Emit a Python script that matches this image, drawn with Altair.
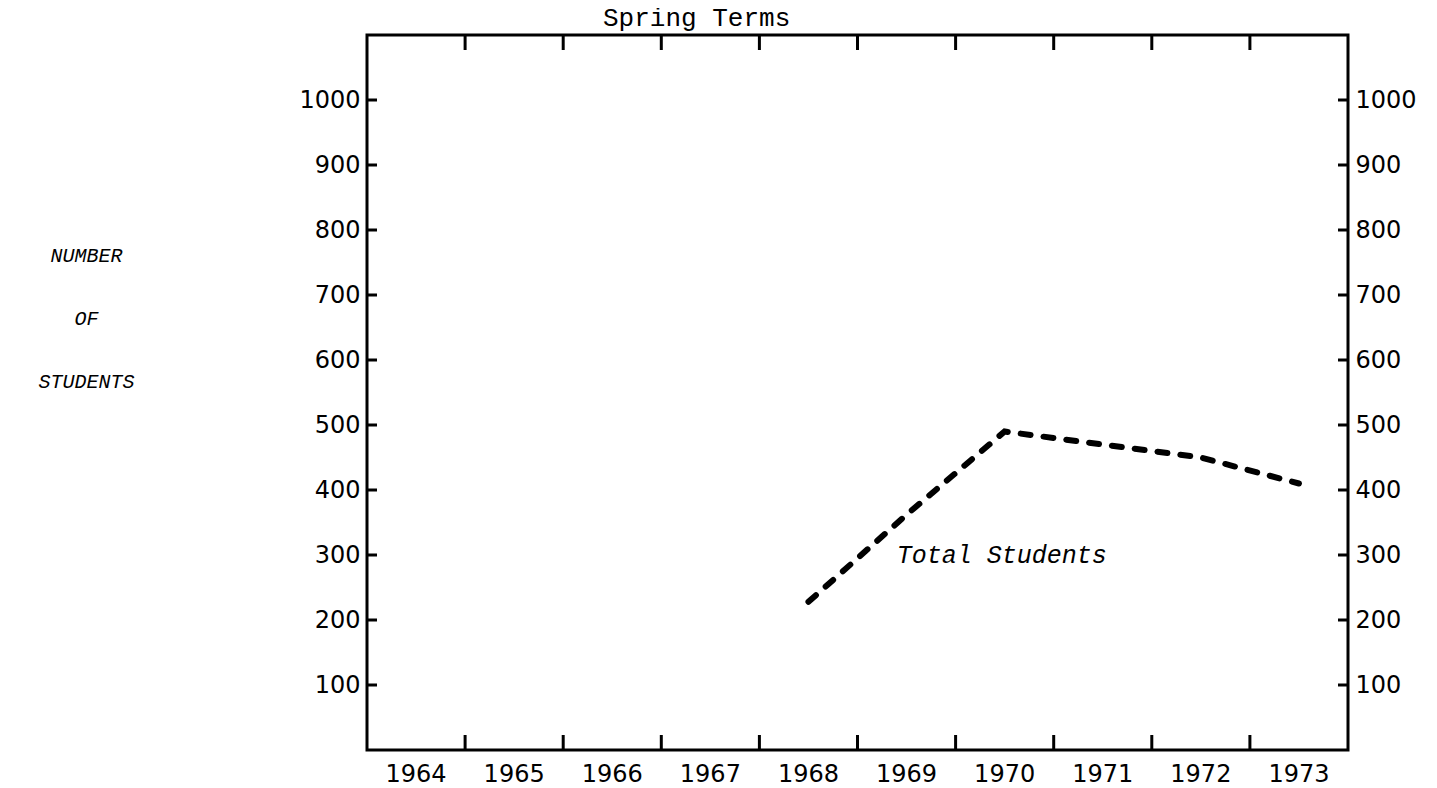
import altair as alt
import pandas as pd

# ---- data ----
years_all = [1964, 1965, 1966, 1967, 1968, 1969, 1970, 1971, 1972, 1973]
line_years = [1968, 1969, 1970, 1971, 1972, 1973]
line_values = [228, 362, 490, 470, 450, 410]
y_tick_values = [100, 200, 300, 400, 500, 600, 700, 800, 900, 1000]
x_tick_years = [1965, 1966, 1967, 1968, 1969, 1970, 1971, 1972, 1973]
series_label = ["Total Students"]
series_label_year = [1969]
series_label_value = [300]
y_title_lines = ["NUMBER", "OF", "STUDENTS"]
chart_title = ["Spring Terms"]
chart_title_year = [1967]

W, H = 981, 715
LABEL_FONT = "DejaVu Sans"
TYPE_FONT = "Liberation Mono"

xscale = alt.Scale(domain=years_all, type="band", paddingInner=0, paddingOuter=0)
yscale = alt.Scale(domain=[0, 1100], nice=False, zero=True)

line_df = pd.DataFrame({"year": line_years, "students": line_values})
ytick_df = pd.DataFrame({"v": y_tick_values})
xtick_df = pd.DataFrame({"year": x_tick_years})
label_df = pd.DataFrame({"year": series_label_year, "v": series_label_value, "t": series_label})
title_df = pd.DataFrame({"year": chart_title_year, "t": chart_title})

line = alt.Chart(line_df).mark_line(
    color="black", strokeWidth=6, strokeDash=[10, 13], strokeCap="round"
).encode(
    x=alt.X("year:O", scale=xscale, bandPosition=0.5,
            axis=alt.Axis(orient="bottom", title=None, labelAngle=0, ticks=False,
                          domain=False, grid=False, labelPadding=12,
                          labelFont=LABEL_FONT, labelFontSize=24, labelColor="black")),
    y=alt.Y("students:Q", scale=yscale,
            axis=alt.Axis(orient="left", values=y_tick_values, format="d", ticks=False,
                          domain=False, grid=False, labelPadding=7, labelFont=LABEL_FONT,
                          labelFontSize=24, labelColor="black",
                          title=y_title_lines, titleAngle=0, titleX=-281, titleY=220,
                          titleAlign="center", titleBaseline="middle",
                          titleFont=TYPE_FONT, titleFontStyle="italic",
                          titleFontWeight="normal", titleFontSize=20,
                          titleLineHeight=63, titleColor="black")),
)

right_ticks = alt.Chart(ytick_df).mark_rule(color="black", strokeWidth=3).encode(
    x=alt.value(W - 10), x2=alt.value(W),
    y=alt.Y("v:Q", scale=yscale,
            axis=alt.Axis(orient="right", values=y_tick_values, format="d", ticks=False,
                          domain=False, grid=False, labelPadding=7, labelFont=LABEL_FONT,
                          labelFontSize=24, labelColor="black", title=None)),
)

left_ticks = alt.Chart(ytick_df).mark_rule(color="black", strokeWidth=3).encode(
    x=alt.value(0), x2=alt.value(10),
    y=alt.Y("v:Q", scale=yscale, axis=None),
)

bottom_ticks = alt.Chart(xtick_df).mark_rule(color="black", strokeWidth=3).encode(
    x=alt.X("year:O", scale=xscale, bandPosition=0, axis=None),
    y=alt.value(H), y2=alt.value(H - 15),
)

top_ticks = alt.Chart(xtick_df).mark_rule(color="black", strokeWidth=3).encode(
    x=alt.X("year:O", scale=xscale, bandPosition=0, axis=None),
    y=alt.value(0), y2=alt.value(15),
)

label = alt.Chart(label_df).mark_text(
    align="left", baseline="middle", font=TYPE_FONT, fontStyle="italic",
    fontSize=25, color="black"
).encode(
    x=alt.X("year:O", scale=xscale, bandPosition=0.4, axis=None),
    y=alt.Y("v:Q", scale=yscale, axis=None),
    text="t:N",
)

title = alt.Chart(title_df).mark_text(
    align="center", baseline="alphabetic", font=TYPE_FONT, fontSize=26, color="black"
).encode(
    x=alt.X("year:O", scale=xscale, bandPosition=0.36, axis=None),
    y=alt.value(-9),
    text="t:N",
)

chart = alt.layer(
    line, right_ticks, left_ticks, bottom_ticks, top_ticks, label, title
).resolve_axis(x="independent", y="independent").properties(
    width=W, height=H,
    autosize=alt.AutoSizeParams(type="none"),
    padding={"left": 359, "top": 27, "right": 80, "bottom": 38},
    background="white",
).configure_view(
    stroke="black", strokeWidth=3
)

chart.save("out.html", embed_options={"renderer": "svg", "actions": False})
